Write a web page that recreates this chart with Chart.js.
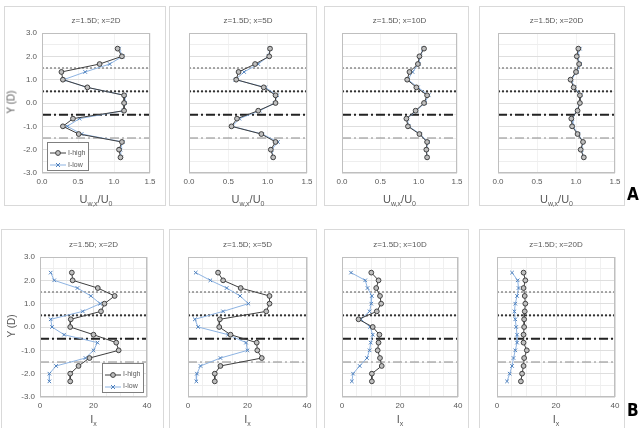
<!DOCTYPE html>
<html>
<head>
<meta charset="utf-8">
<script src="https://cdn.jsdelivr.net/npm/chart.js@4.4.1/dist/chart.umd.min.js"></script>
<style>
body{margin:0;background:#fff;width:642px;height:428px;overflow:hidden;position:relative;font-family:"Liberation Sans",Arial,sans-serif;color:#595959}
.box{position:absolute;border:1px solid #d9d9d9;box-sizing:border-box}
.t{position:absolute;white-space:nowrap;transform:translate(-50%,-50%)}
.ttl{font-size:8px}
.axt{font-size:11px}
.axt sub{font-size:7px}
.yl{position:absolute;font-size:10px;transform:translate(-50%,-50%) rotate(-90deg);white-space:nowrap}
.lg{position:absolute;border:1px solid #7f7f7f;background:#fff;font-size:7px;box-sizing:border-box}
.lg div{position:absolute;left:2px;height:10px;line-height:10px}
.lg svg{vertical-align:middle}
.big{position:absolute;font-family:"Liberation Sans Narrow","DejaVu Sans Condensed",sans-serif;font-weight:bold;font-size:17px;color:#000}
canvas{position:absolute}
</style>
</head>
<body>
<script>
// measurement positions, y/D
var yPos = [2.33, 2.0, 1.67, 1.33, 1.0, 0.67, 0.33, 0.0, -0.33, -0.67, -1.0, -1.33, -1.67, -2.0, -2.33];

// mean velocity U_w,x/U_0
var uHigh2D  = [1.05, 1.11, 0.80, 0.27, 0.29, 0.63, 1.14, 1.14, 1.14, 0.43, 0.29, 0.51, 1.11, 1.07, 1.09];
var uLow2D   = [1.07, 1.12, 0.94, 0.60, 0.30, 0.62, 1.15, 1.15, 1.13, 0.52, 0.35, 0.55, 1.12, 1.09, 1.10];
var uHigh5D  = [1.03, 1.02, 0.84, 0.63, 0.60, 0.95, 1.10, 1.10, 0.88, 0.61, 0.54, 0.92, 1.10, 1.04, 1.07];
var uLow5D   = [1.03, 1.01, 0.88, 0.70, 0.59, 0.97, 1.12, 1.09, 0.90, 0.64, 0.55, 0.93, 1.13, 1.05, 1.07];
var uHigh10D = [1.07, 1.01, 0.99, 0.88, 0.85, 0.97, 1.11, 1.07, 0.96, 0.84, 0.86, 1.01, 1.11, 1.10, 1.11];
var uLow10D  = [1.06, 1.02, 1.00, 0.92, 0.86, 0.99, 1.13, 1.08, 0.97, 0.85, 0.87, 1.02, 1.12, 1.10, 1.11];
var uHigh20D = [1.03, 1.01, 1.04, 1.00, 0.93, 0.97, 1.05, 1.05, 1.02, 0.94, 0.95, 1.02, 1.09, 1.06, 1.10];
var uLow20D  = [1.05, 1.02, 1.05, 1.01, 0.94, 0.98, 1.06, 1.05, 1.01, 0.95, 0.96, 1.03, 1.09, 1.07, 1.10];

// turbulence intensity I_x
var iHigh2D  = [11.9, 12.2, 21.6, 27.9, 24.1, 22.8, 11.5, 11.3, 20.0, 28.5, 29.4, 18.5, 14.4, 11.3, 11.3];
var iLow2D   = [4.0, 5.3, 14.0, 19.0, 22.5, 16.0, 4.0, 4.5, 9.0, 21.5, 20.0, 17.0, 6.0, 3.5, 3.5];
var iHigh5D  = [10.1, 11.8, 17.7, 27.4, 27.4, 26.3, 10.7, 10.5, 14.3, 23.1, 23.3, 24.8, 10.9, 9.0, 9.0];
var iLow5D   = [2.6, 7.5, 13.0, 17.5, 20.3, 11.8, 2.3, 3.4, 13.5, 19.5, 20.0, 10.9, 4.2, 3.0, 2.8];
var iHigh10D = [10.1, 12.6, 11.8, 13.1, 13.5, 12.0, 5.7, 10.6, 12.9, 12.6, 12.3, 13.1, 13.7, 10.3, 10.3];
var iLow10D  = [3.1, 8.0, 8.8, 10.3, 10.1, 9.5, 6.5, 9.7, 10.6, 9.9, 9.5, 8.6, 6.1, 3.8, 3.4];
var iHigh20D = [9.0, 9.6, 9.0, 9.4, 9.6, 9.4, 9.2, 9.2, 9.0, 9.0, 10.1, 9.2, 9.0, 8.5, 8.1];
var iLow20D  = [5.1, 7.0, 7.3, 6.8, 6.2, 5.9, 6.2, 6.5, 6.8, 6.8, 6.2, 5.6, 5.1, 4.3, 3.4];

var refY = [1.5, 0.5, -0.5, -1.5];
var titles = ["z=1.5D; x=2D", "z=1.5D; x=5D", "z=1.5D; x=10D", "z=1.5D; x=20D"];
var seriesNames = ["I-high", "I-low"];

var panels = [
  {hi: uHigh2D,  lo: uLow2D,  title: titles[0], kind: "u", l: 42,  r: 150, t: 33,  b: 173, yTicks: true,  box: [4, 6, 162, 200]},
  {hi: uHigh5D,  lo: uLow5D,  title: titles[1], kind: "u", l: 189, r: 307, t: 33,  b: 173, yTicks: false, box: [169, 6, 148, 200]},
  {hi: uHigh10D, lo: uLow10D, title: titles[2], kind: "u", l: 342, r: 457, t: 33,  b: 173, yTicks: false, box: [324, 6, 145, 200]},
  {hi: uHigh20D, lo: uLow20D, title: titles[3], kind: "u", l: 498, r: 615, t: 33,  b: 173, yTicks: false, box: [479, 6, 146, 200]},
  {hi: iHigh2D,  lo: iLow2D,  title: titles[0], kind: "i", l: 40,  r: 147, t: 257, b: 397, yTicks: true,  box: [1, 229, 163, 200]},
  {hi: iHigh5D,  lo: iLow5D,  title: titles[1], kind: "i", l: 188, r: 307, t: 257, b: 397, yTicks: false, box: [169, 229, 148, 200]},
  {hi: iHigh10D, lo: iLow10D, title: titles[2], kind: "i", l: 342, r: 458, t: 257, b: 397, yTicks: false, box: [324, 229, 145, 200]},
  {hi: iHigh20D, lo: iLow20D, title: titles[3], kind: "i", l: 497, r: 615, t: 257, b: 397, yTicks: false, box: [479, 229, 146, 200]}
];

var refStyles = [
  {dash: [2, 2], width: 1, color: "#555"},
  {dash: [2, 2], width: 2, color: "#333"},
  {dash: [9, 3, 2, 3], width: 2, color: "#222"},
  {dash: [9, 3, 2, 3], width: 1, color: "#888"}
];

var frame = {
  id: "frame",
  afterDraw: function(chart){
    var a = chart.chartArea, c = chart.ctx;
    c.save();
    c.strokeStyle = "#bfbfbf";
    c.lineWidth = 1;
    c.strokeRect(Math.round(a.left) + 0.5, Math.round(a.top) + 0.5, Math.round(a.right - a.left) - 1, Math.round(a.bottom - a.top) - 1);
    c.restore();
  }
};

function pts(xs){
  return xs.map(function(v, i){ return {x: v, y: yPos[i]}; });
}

function add(html){
  document.body.insertAdjacentHTML("beforeend", html);
}

panels.forEach(function(p){
  var b = p.box;
  add('<div class="box" style="left:' + b[0] + 'px;top:' + b[1] + 'px;width:' + b[2] + 'px;height:' + b[3] + 'px"></div>');

  // keep margins wider than the label overflow chart.js reserves, so the plot area lands where set
  var axL = p.yTicks ? 40 : 16, padT = 14, padR = 16, axB = 18;
  var w = p.r - p.l, h = p.b - p.t;
  var cv = document.createElement("canvas");
  cv.width = axL + w + padR;
  cv.height = padT + h + axB;
  cv.style.left = (p.l - axL) + "px";
  cv.style.top = (p.t - padT) + "px";
  cv.style.width = cv.width + "px";
  cv.style.height = cv.height + "px";
  document.body.appendChild(cv);

  var xMax = p.kind == "u" ? 1.5 : 40;
  var ds = refY.map(function(y, k){
    var s = refStyles[k];
    return {data: [{x: 0, y: y}, {x: xMax, y: y}], borderColor: s.color, borderWidth: s.width,
            borderDash: s.dash, pointRadius: 0, fill: false, order: 5};
  });
  ds.push({label: seriesNames[1], data: pts(p.lo), borderColor: "#8db3e2", borderWidth: 1,
           pointStyle: "crossRot", pointRadius: 2.5, pointBorderColor: "#4f81bd", pointBorderWidth: 1, order: 2});
  ds.push({label: seriesNames[0], data: pts(p.hi), borderColor: "#3f3f3f", borderWidth: 1,
           pointStyle: "circle", pointRadius: 2.4, pointBorderColor: "#404040", pointBackgroundColor: "#bfbfbf",
           pointBorderWidth: 1, order: 1});

  new Chart(cv, {
    type: "scatter",
    data: {datasets: ds.map(function(d){ d.showLine = true; return d; })},
    plugins: [frame],
    options: {
      responsive: false, animation: false,
      layout: {autoPadding: false, padding: {top: padT, right: padR, left: 0, bottom: 0}},
      plugins: {legend: {display: false}, tooltip: {enabled: false}},
      scales: {
        x: {
          type: "linear", min: 0, max: xMax,
          ticks: {stepSize: p.kind == "u" ? 0.5 : 5, color: "#595959", font: {size: 8}, padding: 4, autoSkip: false,
                  maxRotation: 0,
                  callback: function(v){ return p.kind == "u" ? v.toFixed(1) : (v % 20 == 0 ? String(v) : ""); }},
          grid: {drawTicks: false, color: function(c){
            if (p.kind == "u") return "#f2f2f2";
            return c.tick.value % 20 != 0 ? "#f0f0f0" : "#dedede"; }},
          border: {display: false},
          afterFit: function(s){ s.height = axB; }
        },
        y: {
          type: "linear", min: -3, max: 3,
          ticks: {display: p.yTicks, stepSize: 0.5, color: "#595959", font: {size: 8}, padding: 5, autoSkip: false,
                  callback: function(v){ return v % 1 == 0 ? v.toFixed(1) : ""; }},
          grid: {drawTicks: false, color: function(c){ return c.tick.value % 1 == 0 ? "#dedede" : "#eeeeee"; }},
          border: {display: false},
          afterFit: function(s){ s.width = axL; }
        }
      }
    }
  });

  var cx = (p.l + p.r) / 2;
  add('<div class="t ttl" style="left:' + cx + 'px;top:' + (p.t - 13) + 'px">' + p.title + '</div>');
  if (p.kind == "u") {
    add('<div class="t axt" style="left:' + cx + 'px;top:' + (p.b + 27) + 'px">U<sub>w,x</sub>/U<sub>0</sub></div>');
  } else {
    add('<div class="t axt" style="left:' + cx + 'px;top:' + (p.b + 23) + 'px">I<sub>x</sub></div>');
  }
  if (p.yTicks) {
    add('<div class="yl" style="left:11px;top:' + ((p.t + p.b) / 2 - 1) + 'px">Y (D)</div>');
  }
});

function legend(x, y, w, h){
  var hiMark = '<svg width="16" height="8"><line x1="0" y1="4" x2="16" y2="4" stroke="#3f3f3f"/><circle cx="8" cy="4" r="2.4" fill="#bfbfbf" stroke="#404040"/></svg>';
  var loMark = '<svg width="16" height="8"><line x1="0" y1="4" x2="16" y2="4" stroke="#8db3e2"/><path d="M6 2L10 6M10 2L6 6" stroke="#4f81bd"/></svg>';
  add('<div class="lg" style="left:' + x + 'px;top:' + y + 'px;width:' + w + 'px;height:' + h + 'px">' +
      '<div style="top:' + (h * 0.18) + 'px">' + hiMark + ' ' + seriesNames[0] + '</div>' +
      '<div style="top:' + (h * 0.58) + 'px">' + loMark + ' ' + seriesNames[1] + '</div></div>');
}
legend(47, 142, 42, 29);
legend(102, 363, 42, 30);

add('<div class="big" style="left:627px;top:184px">A</div>');
add('<div class="big" style="left:627px;top:400px">B</div>');
</script>
</body>
</html>
